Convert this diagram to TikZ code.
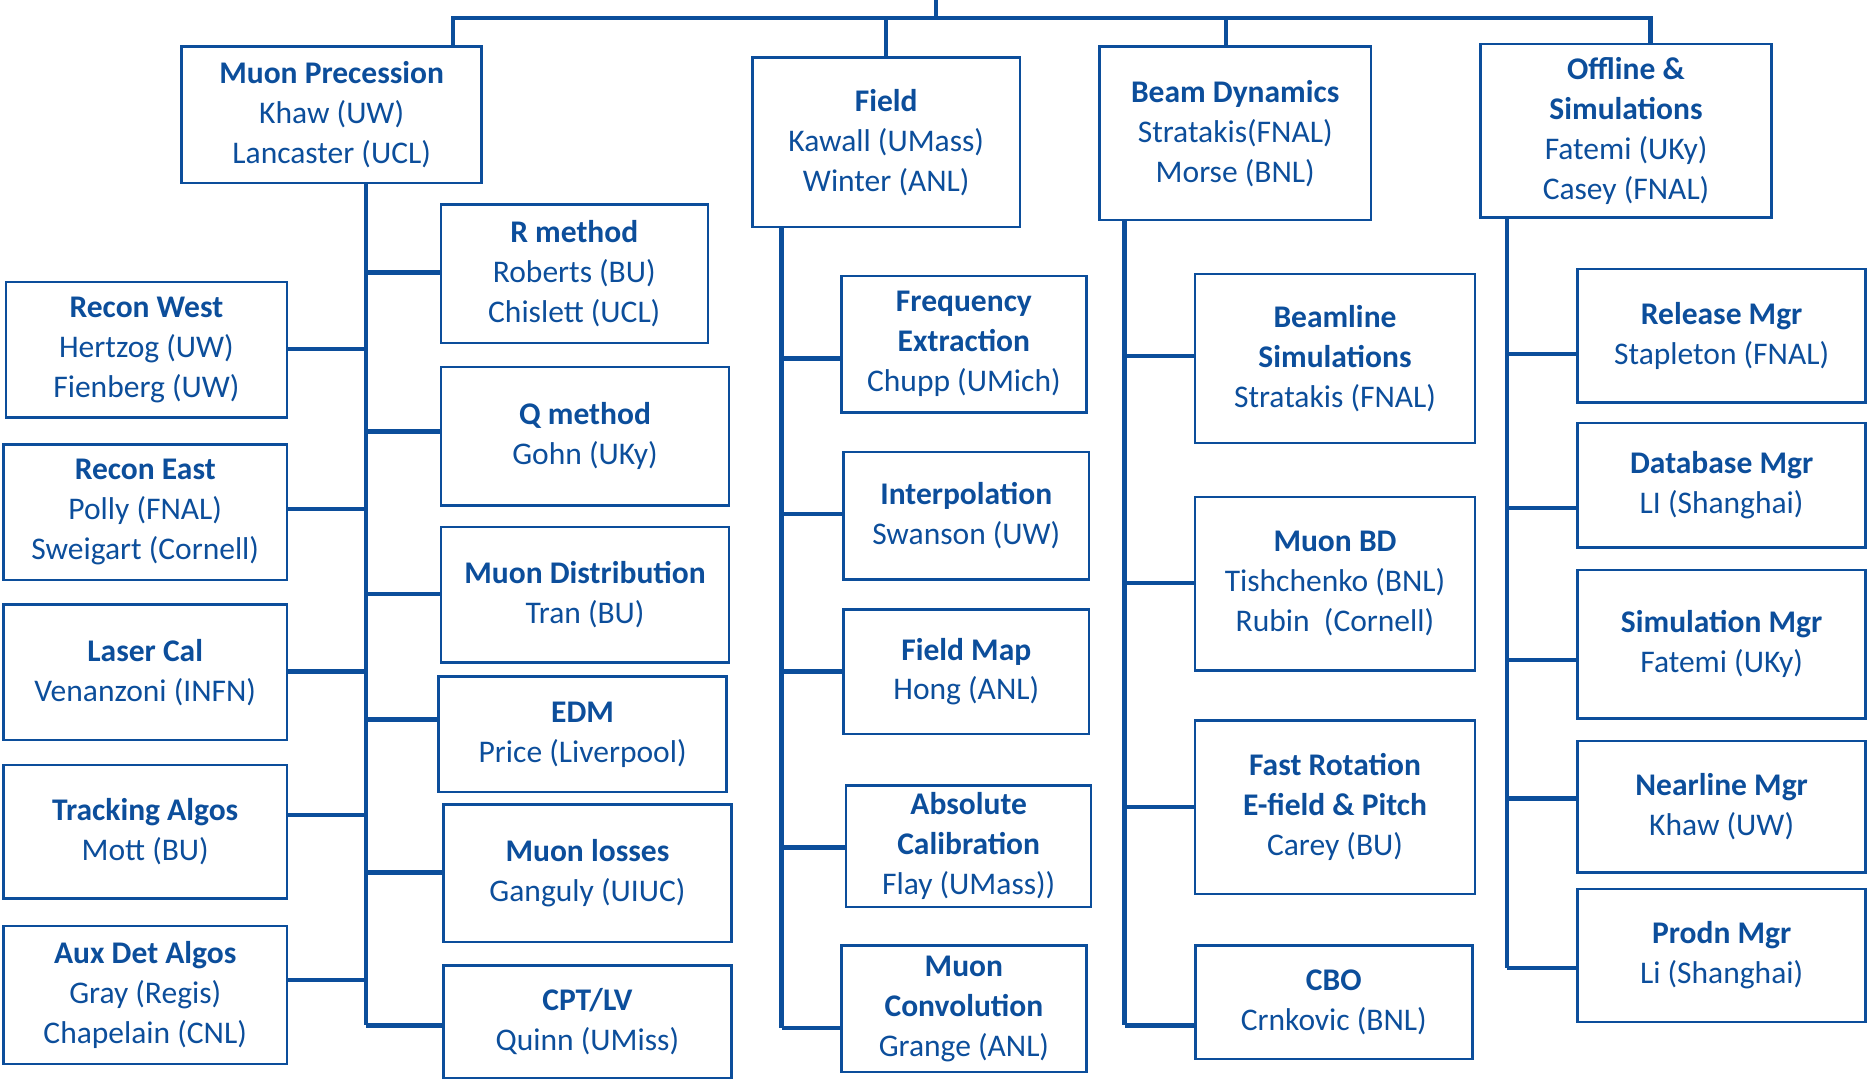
\documentclass[tikz,border=0pt]{standalone}
\usepackage{fontspec}
\setmainfont{Carlito}
\usepackage{tikz}

\definecolor{gblue}{RGB}{12,78,155}

\begin{document}
\begin{tikzpicture}[x=0.012cm,y=-0.012cm,
	grp/.style={draw=gblue,line width=0.7pt,align=center,text=gblue,inner sep=0pt,
		font=\fontsize{9}{11.4}\selectfont},
	link/.style={draw=gblue,line width=1.25pt}]
	\useasboundingbox (0,0) rectangle (1568,904);

	% groups
	\node[grp,minimum width=3.01cm,minimum height=1.37cm] (mp) at (277.5,96) {\textbf{Muon Precession}\\Khaw (UW)\\Lancaster (UCL)};
	\node[grp,minimum width=2.68cm,minimum height=1.70cm] (fld) at (741.5,119) {\textbf{Field}\\Kawall (UMass)\\Winter (ANL)};
	\node[grp,minimum width=2.72cm,minimum height=1.74cm] (bd) at (1033.5,111.5) {\textbf{Beam Dynamics}\\Stratakis(FNAL)\\Morse (BNL)};
	\node[grp,minimum width=2.92cm,minimum height=1.74cm] (off) at (1360.5,109.5) {\textbf{Offline \&}\\\textbf{Simulations}\\Fatemi (UKy)\\Casey (FNAL)};

	% muon precession, left
	\node[grp,minimum width=2.82cm,minimum height=1.36cm] (rw) at (122.5,292.5) {\textbf{Recon West}\\Hertzog (UW)\\Fienberg (UW)};
	\node[grp,minimum width=2.84cm,minimum height=1.36cm] (re) at (121.5,428.5) {\textbf{Recon East}\\Polly (FNAL)\\Sweigart (Cornell)};
	\node[grp,minimum width=2.84cm,minimum height=1.36cm] (lc) at (121.5,562.5) {\textbf{Laser Cal}\\Venanzoni (INFN)};
	\node[grp,minimum width=2.84cm,minimum height=1.34cm] (ta) at (121.5,696) {\textbf{Tracking Algos}\\Mott (BU)};
	\node[grp,minimum width=2.84cm,minimum height=1.38cm] (ad) at (121.5,832.5) {\textbf{Aux Det Algos}\\Gray (Regis)\\Chapelain (CNL)};

	% muon precession, right
	\node[grp,minimum width=2.68cm,minimum height=1.39cm] (rm) at (480.5,229) {\textbf{R method}\\Roberts (BU)\\Chislett (UCL)};
	\node[grp,minimum width=2.89cm,minimum height=1.39cm] (qm) at (489.5,365) {\textbf{Q method}\\Gohn (UKy)};
	\node[grp,minimum width=2.89cm,minimum height=1.36cm] (md) at (489.5,497.5) {\textbf{Muon Distribution}\\Tran (BU)};
	\node[grp,minimum width=2.89cm,minimum height=1.16cm] (edm) at (487.5,614.5) {\textbf{EDM}\\Price (Liverpool)};
	\node[grp,minimum width=2.89cm,minimum height=1.38cm] (ml) at (491.5,730.5) {\textbf{Muon losses}\\Ganguly (UIUC)};
	\node[grp,minimum width=2.89cm,minimum height=1.13cm] (cpt) at (491.5,855) {\textbf{CPT/LV}\\Quinn (UMiss)};

	% field
	\node[grp,minimum width=2.46cm,minimum height=1.37cm] (fe) at (806.5,288) {\textbf{Frequency}\\\textbf{Extraction}\\Chupp (UMich)};
	\node[grp,minimum width=2.46cm,minimum height=1.28cm] (ip) at (808.5,431.5) {\textbf{Interpolation}\\Swanson (UW)};
	\node[grp,minimum width=2.46cm,minimum height=1.25cm] (fm) at (808.5,562) {\textbf{Field Map}\\Hong (ANL)};
	\node[grp,minimum width=2.46cm,minimum height=1.22cm] (ac) at (810.5,708) {\textbf{Absolute}\\\textbf{Calibration}\\Flay (UMass))};
	\node[grp,minimum width=2.46cm,minimum height=1.27cm] (mc) at (806.5,844) {\textbf{Muon}\\\textbf{Convolution}\\Grange (ANL)};

	% beam dynamics
	\node[grp,minimum width=2.81cm,minimum height=1.70cm] (bs) at (1117,300) {\textbf{Beamline}\\\textbf{Simulations}\\Stratakis (FNAL)};
	\node[grp,minimum width=2.81cm,minimum height=1.74cm] (mbd) at (1117,488.5) {\textbf{Muon BD}\\Tishchenko (BNL)\\Rubin\ \ (Cornell)};
	\node[grp,minimum width=2.81cm,minimum height=1.74cm] (fr) at (1117,675.5) {\textbf{Fast Rotation}\\\textbf{E-field \& Pitch}\\Carey (BU)};
	\node[grp,minimum width=2.78cm,minimum height=1.14cm] (cbo) at (1116,838.5) {\textbf{CBO}\\Crnkovic (BNL)};

	% offline
	\node[grp,minimum width=2.89cm,minimum height=1.34cm] (rel) at (1440.5,281) {\textbf{Release Mgr}\\Stapleton (FNAL)};
	\node[grp,minimum width=2.89cm,minimum height=1.25cm] (db) at (1440.5,406) {\textbf{Database Mgr}\\LI (Shanghai)};
	\node[grp,minimum width=2.89cm,minimum height=1.49cm] (sim) at (1440.5,539) {\textbf{Simulation Mgr}\\Fatemi (UKy)};
	\node[grp,minimum width=2.89cm,minimum height=1.32cm] (nl) at (1440.5,675) {\textbf{Nearline Mgr}\\Khaw (UW)};
	\node[grp,minimum width=2.89cm,minimum height=1.33cm] (pm) at (1440.5,799.5) {\textbf{Prodn Mgr}\\Li (Shanghai)};

	% top bar
	\coordinate (top) at (783,0);
	\coordinate (bar) at (783,15);
	\coordinate (bdT) at (bd.north -| 1026,0);
	\draw[link] (top) -- (bar);
	\draw[link] (mp.north -| 379,0) -- (379,15) -- (1381,15) -- (off.north -| 1381,0);
	\draw[link] (fld.north |- bar) -- (fld.north);
	\draw[link] (bdT |- bar) -- (bdT);

	% spines
	\coordinate (mpS) at (mp.south -| 306,0);
	\coordinate (fldS) at (fld.south -| 654,0);
	\coordinate (bdS) at (bd.south -| 941,0);
	\coordinate (offS) at (off.south -| 1261,0);
	\draw[link] (mpS) -- (mpS |- 0,858);
	\draw[link] (fldS) -- (fldS |- 0,860);
	\draw[link] (bdS) -- (bdS |- 0,858);
	\draw[link] (offS) -- (offS |- 0,810);

	% branches
	\foreach \n/\y in {rw/292,re/426,lc/562,ta/682,ad/820}
		\draw[link] (mpS |- 0,\y) -- (\n.east |- 0,\y);
	\foreach \n/\y in {rm/228,qm/361,md/497,edm/602,ml/730,cpt/858}
		\draw[link] (mpS |- 0,\y) -- (\n.west |- 0,\y);
	\foreach \n/\y in {fe/300,ip/430,fm/562,ac/709,mc/860}
		\draw[link] (fldS |- 0,\y) -- (\n.west |- 0,\y);
	\foreach \n/\y in {bs/298,mbd/488,fr/675,cbo/858}
		\draw[link] (bdS |- 0,\y) -- (\n.west |- 0,\y);
	\foreach \n/\y in {rel/296,db/425,sim/552,nl/668,pm/810}
		\draw[link] (offS |- 0,\y) -- (\n.west |- 0,\y);
\end{tikzpicture}
\end{document}
